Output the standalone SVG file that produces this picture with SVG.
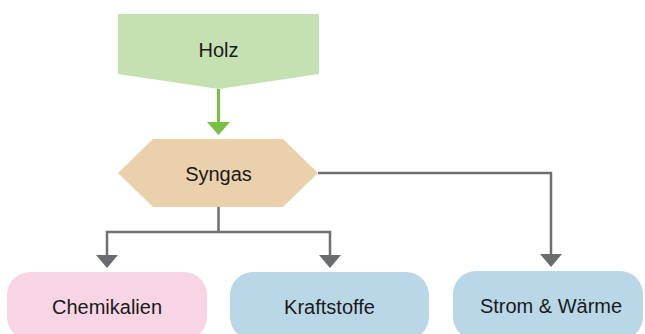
<svg xmlns="http://www.w3.org/2000/svg" width="645" height="334" viewBox="0 0 645 334">
  <style>
    text { font-family: "Liberation Sans", Arial, sans-serif; font-size: 20px; fill: #1a1a1a; text-anchor: middle; }
    .wire { fill: none; stroke: #707073; stroke-width: 2.5; }
    .head { fill: #6b6c70; }
  </style>
  <rect width="645" height="334" fill="#ffffff"/>

  <g id="connectors">
    <!-- Holz to Syngas -->
    <line x1="218.5" y1="89" x2="218.5" y2="123" stroke="#77c043" stroke-width="3"/>
    <polygon points="207,122 230,122 218.5,135" fill="#77c043"/>
    <!-- Syngas down to Chemikalien and Kraftstoffe -->
    <polyline class="wire" points="218.5,207 218.5,232"/>
    <polyline class="wire" points="107,256 107,232 330,232 330,256"/>
    <polygon class="head" points="96,255 118,255 107,268"/>
    <polygon class="head" points="319,255 341,255 330,268"/>
    <!-- Syngas to Strom & Wärme -->
    <polyline class="wire" points="318,173 551,173 551,255"/>
    <polygon class="head" points="540,254 562,254 551,267"/>
  </g>

  <g id="holz">
    <polygon points="118,14 319,14 319,74 218.5,89 118,74" fill="#c6e1b1"/>
    <text x="218.5" y="57">Holz</text>
  </g>

  <g id="syngas">
    <polygon points="118,173 153,139 283,139 318,173 283,207 153,207" fill="#ebd1ab"/>
    <text x="218.5" y="181">Syngas</text>
  </g>

  <g id="chemikalien">
    <rect x="7" y="272" width="200" height="68" rx="23" fill="#f8d5e5"/>
    <text x="107" y="314">Chemikalien</text>
  </g>

  <g id="kraftstoffe">
    <rect x="230" y="272" width="199" height="68" rx="23" fill="#bad7e8"/>
    <text x="329.5" y="314">Kraftstoffe</text>
  </g>

  <g id="strom-waerme">
    <rect x="453" y="271" width="190" height="69" rx="23" fill="#bad7e8"/>
    <text x="551" y="313">Strom &amp; Wärme</text>
  </g>
</svg>
